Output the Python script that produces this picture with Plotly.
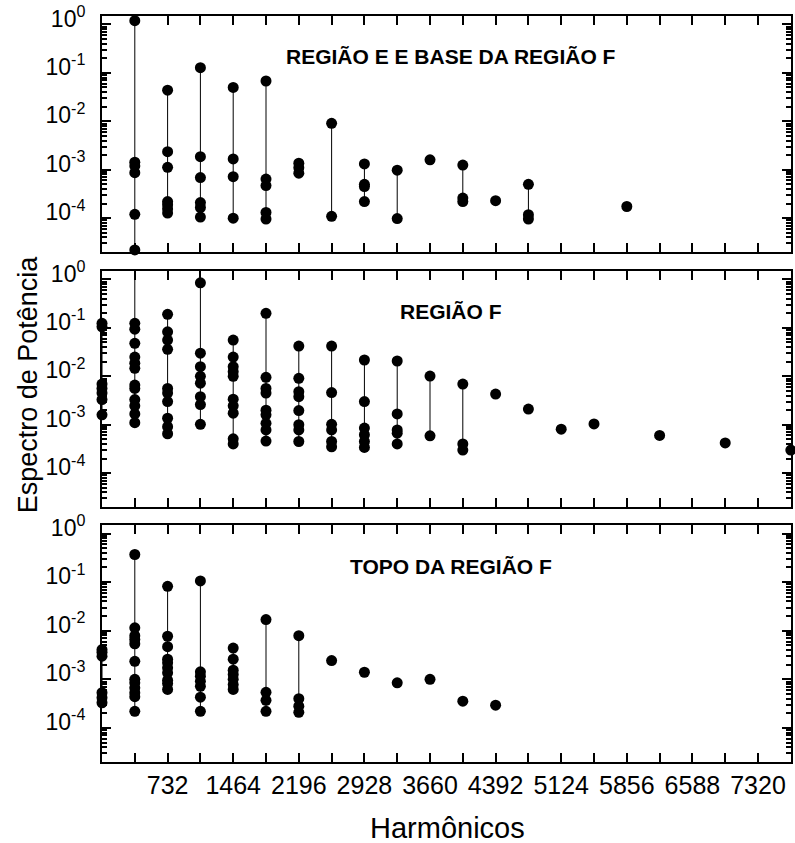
import plotly.graph_objects as go

# Harmonic frequencies (multiples of 366) and the power values measured at each one
base_e_harm = [366, 732, 1098, 1464, 1830, 2196, 2562, 2928, 3294, 3660, 4026, 4392, 4758, 5856]
base_e_power = [
    [1.2, 1.43e-3, 1.2e-3, 8.7e-4, 1.2e-4, 2.2e-5],
    [0.044, 2.36e-3, 1.12e-3, 2.2e-4, 1.9e-4, 1.55e-4, 1.27e-4],
    [0.128, 1.86e-3, 6.9e-4, 2.1e-4, 1.66e-4, 1.05e-4],
    [0.05, 1.67e-3, 7.2e-4, 1.0e-4],
    [0.068, 6.4e-4, 4.7e-4, 1.31e-4, 9.6e-5],
    [1.36e-3, 1.1e-3, 8.5e-4],
    [9.1e-3, 1.09e-4],
    [1.32e-3, 5.0e-4, 4.5e-4, 2.2e-4],
    [9.8e-4, 9.8e-5],
    [1.6e-3],
    [1.25e-3, 2.6e-4, 2.2e-4],
    [2.3e-4],
    [5.0e-4, 1.18e-4, 9.6e-5],
    [1.74e-4],
]

regiao_f_harm = [0, 366, 732, 1098, 1464, 1830, 2196, 2562, 2928, 3294, 3660, 4026,
                 4392, 4758, 5124, 5490, 6222, 6954, 7686]
regiao_f_power = [
    [0.124, 0.105, 6.9e-3, 5.6e-3, 4.5e-3, 3.3e-3, 1.6e-3],
    [4.0, 0.124, 0.094, 0.048, 0.025, 0.0186, 0.0146, 6.6e-3, 5.6e-3, 3.3e-3, 2.45e-3, 1.67e-3, 1.1e-3],
    [0.19, 0.083, 0.056, 0.036, 5.6e-3, 4.5e-3, 3.0e-3, 1.36e-3, 9.1e-4, 6.5e-4],
    [0.85, 0.03, 0.0158, 0.01, 7.2e-3, 3.8e-3, 2.6e-3, 1.02e-3],
    [0.056, 0.025, 0.0158, 0.0124, 0.01, 3.36e-3, 2.45e-3, 1.73e-3, 5.1e-4, 4.0e-4],
    [0.2, 9.5e-3, 5.6e-3, 4.5e-3, 2.0e-3, 1.6e-3, 1.07e-3, 7.8e-4, 4.6e-4],
    [0.042, 9.1e-3, 4.8e-3, 3.8e-3, 1.96e-3, 1.0e-3, 7.8e-4, 4.5e-4],
    [0.042, 4.6e-3, 1.02e-3, 7.8e-4, 4.5e-4, 3.5e-4],
    [0.0217, 3.0e-3, 8.5e-4, 6.2e-4, 4.5e-4, 3.4e-4],
    [0.0207, 1.67e-3, 7.8e-4, 6.7e-4, 4.0e-4],
    [0.0101, 5.9e-4],
    [6.9e-3, 4.0e-4, 3.0e-4],
    [4.3e-3],
    [2.1e-3],
    [8.1e-4],
    [1.04e-3],
    [6.0e-4],
    [4.2e-4],
    [3.0e-4],
]

topo_f_harm = [0, 366, 732, 1098, 1464, 1830, 2196, 2562, 2928, 3294, 3660, 4026, 4392]
topo_f_power = [
    [4.1e-3, 3.6e-3, 3.0e-3, 5.3e-4, 4.2e-4, 3.3e-4],
    [0.37, 0.0115, 7.9e-3, 6.6e-3, 5.4e-3, 2.35e-3, 1.0e-3, 8.5e-4, 6.7e-4, 5.3e-4, 4.4e-4, 2.2e-4],
    [0.082, 7.7e-3, 4.7e-3, 2.6e-3, 2.2e-3, 1.73e-3, 1.36e-3, 9.6e-4, 8.2e-4, 6.2e-4],
    [0.106, 1.43e-3, 1.16e-3, 9.1e-4, 7.2e-4, 4.3e-4, 2.2e-4],
    [4.4e-3, 2.6e-3, 1.54e-3, 1.26e-3, 1.0e-3, 7.8e-4, 6.2e-4],
    [0.017, 5.4e-4, 3.7e-4, 2.2e-4],
    [7.9e-3, 4.0e-4, 2.8e-4, 2.1e-4],
    [2.44e-3],
    [1.4e-3],
    [8.5e-4],
    [1.0e-3],
    [3.55e-4],
    [2.95e-4],
]

panel_titles = ["REGIÃO E E BASE DA REGIÃO F", "REGIÃO F", "TOPO DA REGIÃO F"]
x_tick_vals = [366 * k for k in range(1, 21)]
x_tick_text = [str(v) if (v // 366) % 2 == 0 else "" for v in x_tick_vals]
y_tick_vals = [1e-4, 1e-3, 1e-2, 1e-1, 1e0]
y_tick_text = ["10<sup>-4</sup>", "10<sup>-3</sup>", "10<sup>-2</sup>", "10<sup>-1</sup>", "10<sup>0</sup>"]
y_minor_vals = [m * 10.0 ** e for e in range(-5, 1) for m in range(2, 10)]

FONT = "Liberation Sans, Arial, sans-serif"
panels = [
    (base_e_harm, base_e_power, [0.6836, 1.0]),
    (regiao_f_harm, regiao_f_power, [0.3418, 0.6582]),
    (topo_f_harm, topo_f_power, [0.0, 0.3177]),
]

fig = go.Figure()
layout = dict(
    width=795, height=843,
    margin=dict(l=102, r=2, t=16, b=81),
    paper_bgcolor="white", plot_bgcolor="white",
    showlegend=False,
    font=dict(family=FONT, color="black"),
)

for i, (harm, power, dom) in enumerate(panels):
    n = i + 1
    xa = "x" if n == 1 else f"x{n}"
    ya = "y" if n == 1 else f"y{n}"

    # vertical stems from the lowest to the highest value of each harmonic
    stem_x, stem_lo, stem_len = [], [], []
    for h, vals in zip(harm, power):
        if len(vals) > 1:
            stem_x.append(h)
            stem_lo.append(min(vals))
            stem_len.append(max(vals) - min(vals))
    fig.add_trace(go.Scatter(
        x=stem_x, y=stem_lo, mode="markers",
        marker=dict(size=1, opacity=0),
        error_y=dict(type="data", symmetric=False, array=stem_len,
                     arrayminus=[0] * len(stem_len), width=0, thickness=1, color="black"),
        cliponaxis=False, hoverinfo="skip", xaxis=xa, yaxis=ya,
    ))

    px, py = [], []
    for h, vals in zip(harm, power):
        px.extend([h] * len(vals))
        py.extend(vals)
    fig.add_trace(go.Scatter(
        x=px, y=py, mode="markers",
        marker=dict(size=11, color="black", line=dict(width=0)),
        cliponaxis=False, xaxis=xa, yaxis=ya,
    ))

    xkey = "xaxis" if n == 1 else f"xaxis{n}"
    ykey = "yaxis" if n == 1 else f"yaxis{n}"
    layout[xkey] = dict(
        domain=[0, 1], anchor=ya, range=[0, 7688],
        tickmode="array", tickvals=x_tick_vals, ticktext=x_tick_text,
        ticks="inside", ticklen=9, tickwidth=2, tickcolor="black",
        showline=True, linewidth=2, linecolor="black", mirror="allticks",
        showgrid=False, zeroline=False,
        showticklabels=(n == 3), ticklabelstandoff=0,
        tickfont=dict(family=FONT, size=25, color="black"),
    )
    layout[ykey] = dict(
        domain=dom, anchor=xa, type="log", range=[-4.7, 0.175],
        tickmode="array", tickvals=y_tick_vals, ticktext=y_tick_text,
        ticks="inside", ticklen=9, tickwidth=2, tickcolor="black",
        minor=dict(tickmode="array", tickvals=y_minor_vals, ticks="inside",
                   ticklen=5, tickwidth=1.5, tickcolor="black", showgrid=False),
        showline=True, linewidth=2, linecolor="black", mirror="allticks",
        showgrid=False, zeroline=False, ticklabelstandoff=10, ticklabelshift=-6,
        tickfont=dict(family=FONT, size=23, color="black"),
    )

annotations = []
for i, (title, ypos) in enumerate(zip(panel_titles, [0.8275, 0.8275, 0.824])):
    n = i + 1
    annotations.append(dict(
        text=f"<b>{title}</b>", xref="x domain" if n == 1 else f"x{n} domain",
        yref="y domain" if n == 1 else f"y{n} domain",
        x=0.507, y=ypos, xanchor="center", yanchor="middle", showarrow=False,
        font=dict(family=FONT, size=21, color="black"),
    ))
annotations.append(dict(
    text="Espectro de Potência", xref="paper", yref="paper", x=-0.107, y=0.5067,
    xanchor="center", yanchor="middle", textangle=-90, showarrow=False,
    font=dict(family=FONT, size=27, color="black"),
))
annotations.append(dict(
    text="Harmônicos", xref="paper", yref="paper", x=0.501, y=-0.0885,
    xanchor="center", yanchor="middle", showarrow=False,
    font=dict(family=FONT, size=29, color="black"),
))
layout["annotations"] = annotations

fig.update_layout(**layout)
fig.write_html("out.html")
